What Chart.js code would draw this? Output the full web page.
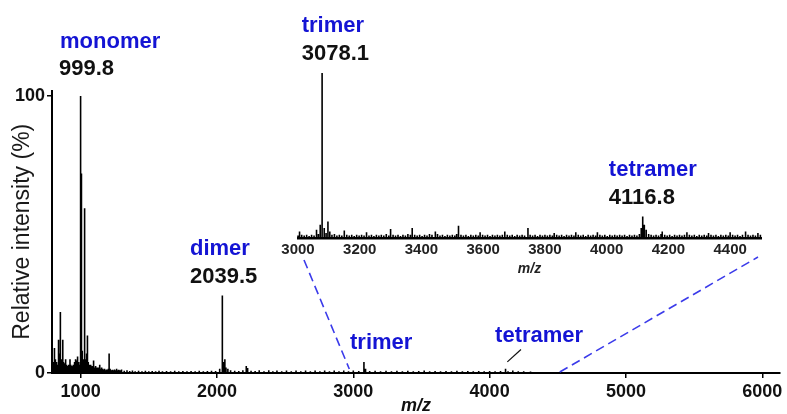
<!DOCTYPE html>
<html>
<head>
<meta charset="utf-8">
<script src="https://cdn.jsdelivr.net/npm/chart.js@4"></script>
<style>
  html, body { margin: 0; padding: 0; background: #fff; }
  #wrap { position: relative; width: 787px; height: 414px; }
  #wrap canvas { position: absolute; left: 0; top: 0; }
</style>
</head>
<body>
<div id="wrap">
  <canvas id="mainChart" width="787" height="414"></canvas>
  <canvas id="insetChart" width="787" height="414"></canvas>
</div>
<script>
// full spectrum (m/z vs relative intensity %)
const mainMz = [
  795, 800, 805, 810, 815, 820, 825, 830, 835, 840, 845, 849, 853, 858, 863, 869, 874, 880, 885, 890,
  896, 902, 908, 914, 922, 928, 934, 940, 946, 952, 958, 963, 968, 974, 980, 986, 992, 999.8, 1006, 1012,
  1018, 1025, 1032, 1038, 1044, 1050, 1056, 1062, 1068, 1074, 1080, 1086, 1092, 1097, 1103, 1110, 1116, 1122, 1128, 1134,
  1140, 1147, 1154, 1161, 1168, 1175, 1182, 1189, 1196, 1203, 1209, 1216, 1224, 1232, 1240, 1248, 1256, 1264, 1272, 1280,
  1290, 1300, 1320, 1340, 1360, 1380, 1400, 1425, 1450, 1475, 1500, 1525, 1550, 1575, 1600, 1630, 1660, 1690, 1720, 1750,
  1780, 1810, 1840, 1870, 1900, 1930, 1960, 1990, 2020, 2039.5, 2048, 2058, 2066, 2080, 2100, 2130, 2160, 2190, 2215, 2225,
  2250, 2280, 2310, 2345, 2380, 2410, 2440, 2475, 2510, 2545, 2580, 2615, 2650, 2685, 2720, 2755, 2790, 2825, 2860, 2895,
  2930, 2965, 3000, 3040, 3078.1, 3090, 3120, 3160, 3200, 3240, 3280, 3320, 3360, 3400, 3440, 3480, 3520, 3560, 3600, 3640,
  3680, 3720, 3760, 3800, 3840, 3880, 3920, 3960, 4000, 4040, 4080, 4116.8, 4135, 4170, 4210, 4250, 4300, 4350, 4400, 4450
];
const mainIntensity = [
  2, 4, 9, 3, 5, 2.5, 4, 3, 6, 12, 7, 22, 9, 5, 4, 12, 4, 3, 3.5, 5,
  3, 2.5, 3, 2, 5, 3, 2.5, 2, 3, 2, 4, 5, 4.5, 3, 6, 4, 3, 100, 72, 8,
  5, 59.5, 6, 5, 7, 13.5, 4, 3, 2.5, 3, 2, 2.5, 2, 4.5, 2, 2.5, 1.5, 2, 1.5, 2,
  3, 1.5, 2, 1.5, 1.2, 1.5, 1, 1.3, 1.2, 1.5, 7, 1.5, 1, 1.2, 1, 1.3, 1, 1.5, 1, 1.2,
  1, 1.3, 0.8, 1, 0.7, 0.9, 0.6, 0.8, 0.6, 0.8, 0.6, 0.7, 0.6, 0.8, 0.6, 0.7, 0.6, 0.8, 0.6, 0.7,
  0.6, 0.7, 0.6, 0.8, 0.6, 0.7, 0.8, 0.7, 1.5, 28, 4, 5, 2, 1.5, 1, 0.8, 0.7, 1, 2.5, 1.8,
  0.8, 0.7, 1, 0.6, 1, 0.6, 0.9, 0.6, 0.9, 0.6, 0.9, 0.6, 0.9, 0.6, 0.9, 0.6, 0.9, 0.6, 0.9, 0.6,
  0.9, 0.6, 0.9, 0.7, 4, 1.5, 0.7, 0.8, 0.6, 0.8, 0.6, 0.8, 0.6, 0.8, 0.6, 0.7, 0.9, 0.6, 0.7, 0.6,
  0.7, 0.6, 0.8, 0.6, 0.7, 0.6, 0.7, 0.6, 0.7, 0.6, 0.7, 1.5, 0.6, 0.9, 0.6, 0.6, 0.5, 0.4, 0.4, 0.3
];
const mainTicksX = [1000, 2000, 3000, 4000, 5000, 6000];
const mainTicksY = [0, 100];

// zoomed inset 3000-4500 (scaled to trimer = 100)
const insetMz = [
  3000, 3005, 3012, 3020, 3028, 3036, 3044, 3052, 3060, 3066, 3072, 3078.1, 3085, 3091, 3097, 3103, 3110, 3118, 3126, 3134,
  3142, 3150, 3158, 3166, 3174, 3182, 3190, 3198, 3206, 3214, 3222, 3230, 3238, 3246, 3254, 3262, 3270, 3278, 3286, 3294,
  3300, 3308, 3316, 3324, 3332, 3340, 3348, 3356, 3364, 3370, 3378, 3386, 3394, 3402, 3410, 3418, 3426, 3434, 3445, 3452,
  3460, 3468, 3476, 3484, 3492, 3500, 3508, 3514, 3520, 3528, 3536, 3544, 3552, 3560, 3568, 3576, 3584, 3590, 3598, 3606,
  3614, 3622, 3630, 3638, 3646, 3654, 3662, 3670, 3678, 3686, 3694, 3702, 3710, 3718, 3726, 3734, 3745, 3752, 3760, 3768,
  3776, 3784, 3792, 3800, 3808, 3816, 3824, 3830, 3838, 3846, 3854, 3862, 3870, 3878, 3886, 3894, 3900, 3908, 3916, 3924,
  3932, 3940, 3948, 3956, 3964, 3970, 3978, 3986, 3994, 4002, 4010, 4018, 4026, 4034, 4042, 4050, 4058, 4066, 4074, 4082,
  4090, 4098, 4106, 4112, 4116.8, 4122, 4128, 4136, 4144, 4152, 4160, 4168, 4176, 4180, 4188, 4196, 4204, 4212, 4220, 4228,
  4236, 4244, 4252, 4260, 4268, 4276, 4284, 4292, 4300, 4308, 4316, 4324, 4330, 4338, 4346, 4354, 4362, 4370, 4378, 4386,
  4394, 4400, 4408, 4416, 4424, 4432, 4440, 4450, 4458, 4466, 4474, 4482, 4490, 4498
];
const insetIntensity = [
  1.5, 4, 2, 1.5, 2, 1.2, 2, 1.5, 5, 2.5, 8, 100, 6, 3, 10, 4, 2, 2.5, 1.5, 2,
  1.5, 4.5, 2, 1.5, 2, 1.2, 2, 1.5, 2, 1.5, 3.5, 1.5, 2, 1.2, 2, 1.5, 2, 1.5, 2.5, 1.5,
  5.5, 2, 1.5, 2, 1.2, 2, 1.5, 2.5, 2, 6, 2, 1.5, 2, 1.2, 2, 1.5, 2.5, 2, 4, 2.5,
  1.5, 2, 1.2, 2, 1.5, 2, 1.5, 2.5, 7.5, 2, 1.5, 2, 1.2, 2, 1.5, 2, 1.5, 3.5, 2, 1.5,
  2, 1.2, 2, 1.5, 2, 1.5, 2, 4, 2, 1.5, 2, 1.2, 2, 1.5, 2, 1.5, 6, 2, 1.5, 2,
  1.2, 2, 1.5, 2, 1.5, 2, 1.5, 3, 2, 1.5, 2, 1.2, 2, 1.5, 2, 1.5, 3.5, 2, 1.5, 2,
  1.2, 2, 1.5, 2, 1.5, 3.5, 2, 1.5, 2, 1.2, 2, 1.5, 2, 1.5, 2, 1.5, 2, 1.2, 2, 1.5,
  2, 1.5, 2.5, 6, 13, 8, 5, 2.5, 2, 1.5, 2, 1.5, 2.5, 4, 2, 1.5, 2, 1.2, 2, 1.5,
  2, 1.5, 2, 3.5, 2, 1.5, 2, 1.2, 2, 1.5, 2, 1.5, 3, 2, 1.5, 2, 1.2, 2, 1.5, 2,
  1.5, 3.5, 2, 1.5, 2, 1.2, 2, 4, 2, 1.5, 2, 1.5, 3, 2
];
const insetTicksX = [3000, 3200, 3400, 3600, 3800, 4000, 4200, 4400];

// peak annotations: text, m/z of left edge, baseline level in axis units
const mainLabelText = ['monomer', '999.8', 'dimer', '2039.5', 'trimer', 'tetramer'];
const mainLabelMz = [849, 841, 1802, 1802, 2976, 4040];
const mainLabelLevel = [117.3, 107.6, 42.6, 32.4, 8.6, 11.3];
const mainLabelBlue = [true, false, true, false, true, true];

const insetLabelText = ['trimer', '3078.1', 'tetramer', '4116.8'];
const insetLabelMz = [3012, 3012, 4007, 4007];
const insetLabelLevel = [124.8, 107.9, 37.3, 20.6];
const insetLabelBlue = [true, false, true, false];

const FONT = "'Liberation Sans', Arial, Helvetica, sans-serif";
const BLUE = '#1414d4';
const DASH_BLUE = '#3b3bea';

function toSticks(mz, intensity) {
    return mz.flatMap((m, i) => [{ x: m, y: 0 }, { x: m, y: intensity[i] }, { x: m, y: 0 }]);
}

function drawLabels(chart, texts, mzs, levels, blues) {
    const ctx = chart.ctx;
    const xs = chart.scales.x;
    const ys = chart.scales.y;
    ctx.save();
    ctx.font = 'bold 22px ' + FONT;
    ctx.textAlign = 'left';
    ctx.textBaseline = 'alphabetic';
    texts.forEach((t, i) => {
        ctx.fillStyle = blues[i] ? BLUE : '#111';
        ctx.fillText(t, xs.getPixelForValue(mzs[i]), ys.getPixelForValue(levels[i]));
    });
    ctx.restore();
}

const mainLabelsPlugin = {
    id: 'mainLabels',
    afterDraw(chart) {
        drawLabels(chart, mainLabelText, mainLabelMz, mainLabelLevel, mainLabelBlue);
        // little pointer to the tetramer peak
        const ctx = chart.ctx;
        const xs = chart.scales.x, ys = chart.scales.y;
        ctx.save();
        ctx.strokeStyle = '#111';
        ctx.lineWidth = 1.2;
        ctx.beginPath();
        ctx.moveTo(xs.getPixelForValue(4130), ys.getPixelForValue(4));
        ctx.lineTo(xs.getPixelForValue(4230), ys.getPixelForValue(8.5));
        ctx.stroke();
        ctx.restore();
    }
};

const mainCtx = document.getElementById('mainChart').getContext('2d');
const mainChart = new Chart(mainCtx, {
    type: 'line',
    data: {
        datasets: [{
            data: toSticks(mainMz, mainIntensity),
            borderColor: '#000',
            borderWidth: 1.6,
            pointRadius: 0,
            tension: 0,
            fill: false
        }]
    },
    options: {
        responsive: false,
        animation: false,
        events: [],
        layout: { padding: { left: 0, top: 90.5, right: 7, bottom: 0 } },
        plugins: { legend: { display: false }, tooltip: { enabled: false } },
        scales: {
            x: {
                type: 'linear',
                min: 790,
                max: 6130,
                afterBuildTicks: s => { s.ticks = mainTicksX.map(v => ({ value: v })); },
                afterFit: s => { s.height = 41; },
                grid: { drawOnChartArea: false, drawTicks: true, tickLength: 5, color: '#000', lineWidth: 1.5 },
                border: { color: '#000', width: 2 },
                ticks: {
                    color: '#111',
                    padding: 3,
                    maxRotation: 0,
                    autoSkip: false,
                    font: { family: FONT, size: 18, weight: 'bold' },
                    callback: v => String(v)
                },
                title: {
                    display: true,
                    text: 'm/z',
                    color: '#111',
                    padding: { top: 0, bottom: -3 },
                    font: { family: FONT, size: 18, weight: 'bold', style: 'italic' }
                }
            },
            y: {
                min: 0,
                max: 102,
                afterBuildTicks: s => { s.ticks = mainTicksY.map(v => ({ value: v })); },
                afterFit: s => { s.width = 52; },
                grid: { drawOnChartArea: false, drawTicks: true, tickLength: 5, color: '#000', lineWidth: 1.5 },
                border: { color: '#000', width: 2 },
                ticks: {
                    color: '#111',
                    padding: 2,
                    font: { family: FONT, size: 18, weight: 'bold' },
                    callback: v => String(v)
                },
                title: {
                    display: true,
                    text: 'Relative intensity (%)',
                    color: '#1a1a1a',
                    padding: { top: 9, bottom: 0 },
                    font: { family: FONT, size: 23 }
                }
            }
        }
    },
    plugins: [mainLabelsPlugin]
});

const insetLabelsPlugin = {
    id: 'insetLabels',
    afterDraw(chart) {
        drawLabels(chart, insetLabelText, insetLabelMz, insetLabelLevel, insetLabelBlue);
        // dashed zoom connectors between inset and the main axis
        const ctx = chart.ctx;
        const ix = chart.scales.x;
        const iBottom = chart.chartArea.bottom;
        const mx = mainChart.scales.x, my = mainChart.scales.y;
        ctx.save();
        ctx.strokeStyle = DASH_BLUE;
        ctx.lineWidth = 1.6;
        ctx.setLineDash([9, 5]);
        ctx.beginPath();
        ctx.moveTo(ix.getPixelForValue(3000) + 6, iBottom + 22);
        ctx.lineTo(mx.getPixelForValue(3000) - 4, my.getPixelForValue(0) - 4);
        ctx.stroke();
        ctx.beginPath();
        ctx.moveTo(mx.getPixelForValue(4500) + 2, my.getPixelForValue(0) - 1);
        ctx.lineTo(ix.getPixelForValue(4500) - 3, iBottom + 19);
        ctx.stroke();
        ctx.restore();
    }
};

const insetCtx = document.getElementById('insetChart').getContext('2d');
const insetChart = new Chart(insetCtx, {
    type: 'line',
    data: {
        datasets: [{
            data: toSticks(insetMz, insetIntensity),
            borderColor: '#000',
            borderWidth: 1.6,
            pointRadius: 0,
            tension: 0,
            fill: false,
            clip: false
        }]
    },
    options: {
        responsive: false,
        animation: false,
        events: [],
        layout: { padding: { left: 298, top: 73, right: 26, bottom: 136 } },
        plugins: { legend: { display: false }, tooltip: { enabled: false } },
        scales: {
            x: {
                type: 'linear',
                min: 3000,
                max: 4500,
                afterBuildTicks: s => { s.ticks = insetTicksX.map(v => ({ value: v })); },
                afterFit: s => { s.height = 40; },
                grid: { display: false, drawTicks: false },
                border: { color: '#000', width: 2.5 },
                ticks: {
                    color: '#222',
                    padding: 3,
                    maxRotation: 0,
                    autoSkip: false,
                    font: { family: FONT, size: 15, weight: 'bold' },
                    callback: v => String(v)
                },
                title: {
                    display: true,
                    text: 'm/z',
                    color: '#222',
                    padding: { top: 0, bottom: 0 },
                    font: { family: FONT, size: 14, weight: 'bold', style: 'italic' }
                }
            },
            y: {
                display: false,
                min: 0,
                max: 100
            }
        }
    },
    plugins: [insetLabelsPlugin]
});
</script>
</body>
</html>
